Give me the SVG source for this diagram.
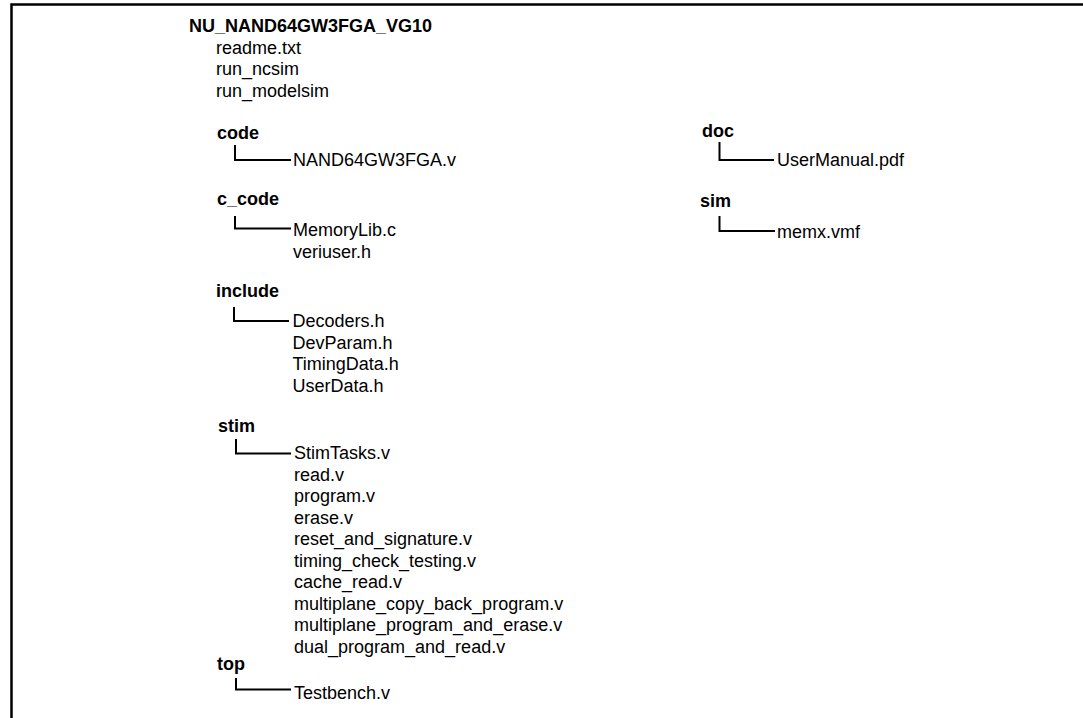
<svg xmlns="http://www.w3.org/2000/svg" width="1083" height="718" viewBox="0 0 1083 718">
<style>
  .f { font-family: "Liberation Sans", Arial, sans-serif; font-size: 18px; fill: #000; }
  .b { font-weight: bold; }
  .ln { fill: none; stroke: #000; stroke-width: 2; }
  .frame { fill: none; stroke: #000; stroke-width: 2.5; }
</style>
<rect width="1083" height="718" fill="#fff"/>
<path class="frame" d="M11.5,718 V4.5 H1083"/>
<g id="root">
  <text class="f b" x="189" y="32">NU_NAND64GW3FGA_VG10</text>
  <text class="f" x="216" y="53.5">readme.txt</text>
  <text class="f" x="216" y="75">run_ncsim</text>
  <text class="f" x="216" y="96.5">run_modelsim</text>
</g>
<g id="code">
  <text class="f b" x="217" y="139">code</text>
  <text class="f" x="293" y="166">NAND64GW3FGA.v</text>
</g>
<g id="c_code">
  <text class="f b" x="217" y="205">c_code</text>
  <text class="f" x="293" y="236">MemoryLib.c</text>
  <text class="f" x="293" y="257.5">veriuser.h</text>
</g>
<g id="include">
  <text class="f b" x="216" y="297">include</text>
  <text class="f" x="292.5" y="327">Decoders.h</text>
  <text class="f" x="292.5" y="348.5">DevParam.h</text>
  <text class="f" x="292.5" y="370">TimingData.h</text>
  <text class="f" x="292.5" y="391.5">UserData.h</text>
</g>
<g id="stim">
  <text class="f b" x="218" y="432">stim</text>
  <text class="f" x="294" y="459">StimTasks.v</text>
  <text class="f" x="294" y="480.5">read.v</text>
  <text class="f" x="294" y="502">program.v</text>
  <text class="f" x="294" y="523.5">erase.v</text>
  <text class="f" x="294" y="545">reset_and_signature.v</text>
  <text class="f" x="294" y="566.5">timing_check_testing.v</text>
  <text class="f" x="294" y="588">cache_read.v</text>
  <text class="f" x="294" y="609.5">multiplane_copy_back_program.v</text>
  <text class="f" x="294" y="631">multiplane_program_and_erase.v</text>
  <text class="f" x="294" y="652.5">dual_program_and_read.v</text>
</g>
<g id="top">
  <text class="f b" x="217" y="670">top</text>
  <text class="f" x="294" y="699">Testbench.v</text>
</g>
<g id="doc">
  <text class="f b" x="702" y="137">doc</text>
  <text class="f" x="777" y="165.5">UserManual.pdf</text>
</g>
<g id="sim">
  <text class="f b" x="700" y="206.5">sim</text>
  <text class="f" x="777" y="238">memx.vmf</text>
</g>
<g id="connectors">
  <path class="ln" d="M235,145 V160 H291"/>
  <path class="ln" d="M235,216 V228.5 H291"/>
  <path class="ln" d="M234,307 V321 H289"/>
  <path class="ln" d="M236,439 V453.5 H291"/>
  <path class="ln" d="M236,678 V689.5 H291"/>
  <path class="ln" d="M719.5,142 V160 H774"/>
  <path class="ln" d="M719.5,216 V231 H775"/>
</g>
</svg>
